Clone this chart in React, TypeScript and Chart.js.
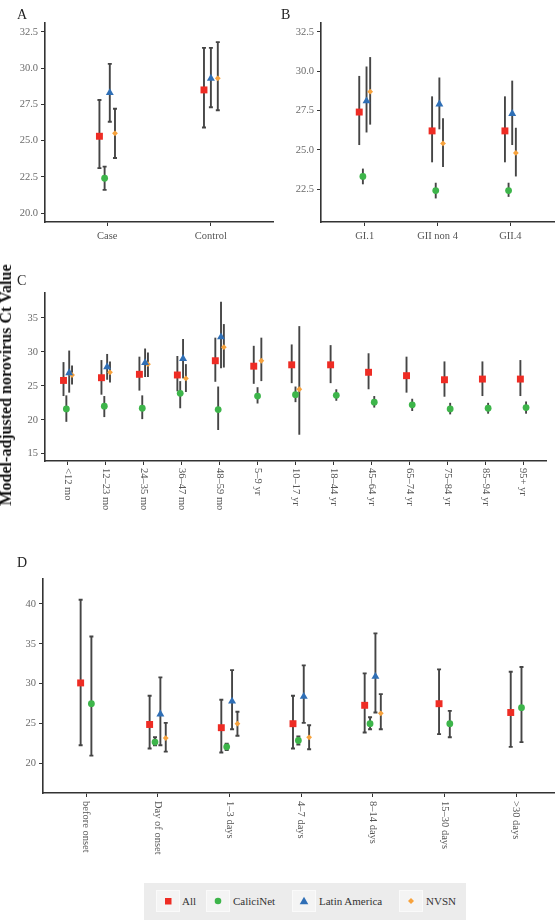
import React, { useEffect, useRef } from 'react';
import { Chart, registerables } from 'chart.js';

Chart.register(...registerables);

// [estimate, lower 95% bound, upper 95% bound]; null where a network has no estimate
type Est = [number, number, number] | null;

const FONT = '"Liberation Serif", "DejaVu Serif", serif';

const seriesNames = ['All', 'CaliciNet', 'Latin America', 'NVSN'];
const seriesColors = ['#ee2c24', '#3db54a', '#2f6fb6', '#f7a23c'];
const seriesShapes = ['rect', 'circle', 'triangle', 'rectRot'];
const seriesRadius = [4.9, 3.4, 4.6, 2.9];

// Panel A: case status
const statusCategories = ['Case', 'Control'];
const statusAll: Est[] = [[25.3, 23.1, 27.8], [28.5, 25.9, 31.4]];
const statusCalici: Est[] = [[22.4, 21.6, 23.2], null];
const statusLatAm: Est[] = [[28.3, 26.3, 30.3], [29.3, 27.3, 31.4]];
const statusNvsn: Est[] = [[25.5, 23.8, 27.2], [29.3, 27.1, 31.8]];
const statusTicks = [20, 22.5, 25, 27.5, 30, 32.5];

// Panel B: genotype
const genoCategories = ['GI.1', 'GII non 4', 'GII.4'];
const genoAll: Est[] = [[27.4, 25.3, 29.7], [26.2, 24.2, 28.4], [26.2, 24.2, 28.4]];
const genoCalici: Est[] = [[23.3, 22.8, 23.8], [22.4, 21.9, 22.9], [22.4, 22.0, 22.9]];
const genoLatAm: Est[] = [[28.1, 26.1, 30.3], [27.9, 26.3, 29.6], [27.3, 25.3, 29.4]];
const genoNvsn: Est[] = [[28.7, 26.6, 30.9], [25.4, 23.9, 27.0], [24.8, 23.3, 26.4]];
const genoTicks = [22.5, 25, 27.5, 30, 32.5];

// Panel C: age group
const ageCategories = [
  '<12 mo', '12–23 mo', '24–35 mo', '36–47 mo', '48–59 mo', '5–9 yr', '10–17 yr',
  '18–44 yr', '45–64 yr', '65–74 yr', '75–84 yr', '85–94 yr', '95+ yr',
];
const ageAll: Est[] = [
  [25.8, 23.5, 28.5], [26.2, 23.7, 28.8], [26.7, 24.3, 29.3], [26.6, 24.2, 29.4],
  [28.7, 25.6, 32.1], [27.9, 25.3, 30.9], [28.1, 25.4, 31.1], [28.1, 25.4, 31.0],
  [27.0, 24.5, 29.8], [26.5, 24.0, 29.3], [25.9, 23.4, 28.6], [26.0, 23.5, 28.6],
  [26.0, 23.5, 28.8],
];
const ageCalici: Est[] = [
  [21.6, 19.7, 23.6], [22.0, 20.4, 23.5], [21.7, 20.1, 23.6], [23.9, 21.7, 25.7],
  [21.5, 18.5, 24.9], [23.5, 22.4, 24.8], [23.7, 22.6, 24.9], [23.6, 22.8, 24.5],
  [22.6, 21.8, 23.5], [22.2, 21.3, 23.1], [21.6, 20.8, 22.5], [21.7, 20.9, 22.5],
  [21.8, 20.9, 22.7],
];
const ageLatAm: Est[] = [
  [26.9, 24.0, 30.2], [27.8, 25.9, 29.7], [28.4, 26.3, 30.5], [29.0, 26.1, 31.9],
  [32.2, 27.6, 37.4], null, null, null, null, null, null, null, null,
];
const ageNvsn: Est[] = [
  [26.6, 25.2, 28.0], [27.0, 25.5, 28.6], [28.2, 26.3, 29.9], [26.1, 24.1, 28.2],
  [30.7, 27.7, 34.1], [28.7, 25.7, 32.1], [24.5, 17.8, 33.8], null, null, null, null,
  null, null,
];
const ageTicks = [15, 20, 25, 30, 35];

// Panel D: days since symptom onset
const onsetCategories = [
  'before onset', 'Day of onset', '1–3 days', '4–7 days', '8–14 days', '15–30 days', '>30 days',
];
const onsetAll: Est[] = [
  [30.1, 22.3, 40.5], [24.9, 21.9, 28.5], [24.5, 21.4, 28.0], [25.0, 21.9, 28.5],
  [27.3, 23.9, 31.3], [27.5, 23.7, 31.8], [26.4, 22.1, 31.5],
];
const onsetCalici: Est[] = [
  [27.5, 21.0, 35.9], [22.7, 22.3, 23.3], [22.1, 21.7, 22.5], [22.9, 22.4, 23.4],
  [25.0, 24.3, 25.8], [25.0, 23.3, 26.6], [27.0, 22.7, 32.1],
];
const onsetLatAm: Est[] = [
  null, [26.2, 22.3, 30.8], [27.8, 24.3, 31.7], [28.4, 25.1, 32.3], [30.9, 26.4, 36.3], null, null,
];
const onsetNvsn: Est[] = [
  null, [23.2, 21.5, 25.1], [25.0, 23.5, 26.5], [23.3, 21.8, 24.8], [26.3, 24.3, 28.7], null, null,
];
const onsetTicks = [20, 25, 30, 35, 40];

interface PanelSpec {
  letter: string;
  categories: string[];
  series: Est[][];
  yMin: number;
  yMax: number;
  yTicks: number[];
  decimals: number;
  xMax?: number;
  dodge: number;
  caps: boolean;
  rotateLabels: boolean;
  box: { left: number; top: number; width: number; height: number };
  plot: { left: number; top: number; right: number; bottom: number };
  letterAt: { x: number; y: number };
  labelGap: number;
}

const panels: PanelSpec[] = [
  {
    letter: 'A', categories: statusCategories,
    series: [statusAll, statusCalici, statusLatAm, statusNvsn],
    yMin: 19.38, yMax: 33.12, yTicks: statusTicks, decimals: 1,
    dodge: 0.2, caps: true, rotateLabels: false,
    box: { left: 0, top: 0, width: 278, height: 250 },
    plot: { left: 45, top: 23, right: 277, bottom: 222 },
    letterAt: { x: 17, y: 18.5 }, labelGap: 17,
  },
  {
    letter: 'B', categories: genoCategories,
    series: [genoAll, genoCalici, genoLatAm, genoNvsn],
    yMin: 20.4, yMax: 33.07, yTicks: genoTicks, decimals: 1,
    dodge: 0.2, caps: false, rotateLabels: false,
    box: { left: 280, top: 0, width: 279, height: 250 },
    plot: { left: 41, top: 23, right: 277, bottom: 222 },
    letterAt: { x: 1, y: 18.5 }, labelGap: 17,
  },
  {
    letter: 'C', categories: ageCategories,
    series: [ageAll, ageCalici, ageLatAm, ageNvsn],
    yMin: 13.93, yMax: 38.68, yTicks: ageTicks, decimals: 0,
    dodge: 0.3, caps: false, rotateLabels: true,
    box: { left: 0, top: 250, width: 559, height: 290 },
    plot: { left: 45, top: 43, right: 546, bottom: 211 },
    letterAt: { x: 17, y: 35 }, labelGap: 7,
  },
  {
    letter: 'D', categories: onsetCategories,
    series: [onsetAll, onsetCalici, onsetLatAm, onsetNvsn],
    yMin: 16.33, yMax: 43.1, yTicks: onsetTicks, decimals: 0,
    xMax: 7.53, dodge: 0.3, caps: true, rotateLabels: true,
    box: { left: 0, top: 540, width: 559, height: 330 },
    plot: { left: 43, top: 39, right: 559, bottom: 253 },
    letterAt: { x: 17, y: 27 }, labelGap: 8,
  },
];

const AXIS_COLOR = '#333333';
const TICK_TEXT = '#6a6a6a';

function Panel({ spec }: { spec: PanelSpec }) {
  const ref = useRef<HTMLCanvasElement | null>(null);

  useEffect(() => {
    const canvas = ref.current;
    if (!canvas) return;
    const { categories, series, box, plot } = spec;

    // dodge the networks present in each category around the category centre
    const datasets = series.map((values, s) => ({
      label: seriesNames[s],
      data: values
        .map((v, i) => {
          if (!v) return null;
          const present = series.map((ser, k) => (ser[i] ? k : -1)).filter((k) => k >= 0);
          const n = present.length;
          const k = present.indexOf(s);
          const offset = (k - (n - 1) / 2) * (spec.dodge / n);
          return { x: i + 1 + offset, y: v[0], lo: v[1], hi: v[2] };
        })
        .filter((p) => p !== null),
      pointStyle: seriesShapes[s],
      pointRadius: seriesRadius[s],
      pointHoverRadius: seriesRadius[s],
      backgroundColor: seriesColors[s],
      borderColor: seriesColors[s],
      borderWidth: 0,
      showLine: false,
      clip: false as const,
    }));

    const errorBars = {
      id: 'errorBars',
      beforeDatasetsDraw(chart: any) {
        const { ctx } = chart;
        const xs = chart.scales.x;
        const ys = chart.scales.y;
        ctx.save();
        ctx.strokeStyle = '#454545';
        ctx.lineWidth = 1.9;
        chart.data.datasets.forEach((ds: any) => {
          ds.data.forEach((p: any) => {
            const px = xs.getPixelForValue(p.x);
            const top = ys.getPixelForValue(p.hi);
            const bot = ys.getPixelForValue(p.lo);
            ctx.beginPath();
            ctx.moveTo(px, top);
            ctx.lineTo(px, bot);
            if (spec.caps) {
              ctx.moveTo(px - 2, top);
              ctx.lineTo(px + 2, top);
              ctx.moveTo(px - 2, bot);
              ctx.lineTo(px + 2, bot);
            }
            ctx.stroke();
          });
        });
        ctx.restore();
      },
    };

    const labels = {
      id: 'categoryLabels',
      afterDraw(chart: any) {
        const { ctx } = chart;
        const xs = chart.scales.x;
        ctx.save();
        ctx.fillStyle = '#555555';
        ctx.font = `10.5px ${FONT}`;
        categories.forEach((c, i) => {
          const px = xs.getPixelForValue(i + 1);
          if (spec.rotateLabels) {
            ctx.save();
            ctx.translate(px, plot.bottom + spec.labelGap);
            ctx.rotate(Math.PI / 2);
            ctx.textAlign = 'left';
            ctx.textBaseline = 'middle';
            ctx.fillText(c, 0, 0);
            ctx.restore();
          } else {
            ctx.textAlign = 'center';
            ctx.textBaseline = 'alphabetic';
            ctx.fillText(c, px, plot.bottom + spec.labelGap);
          }
        });
        ctx.fillStyle = '#222222';
        ctx.font = `14px ${FONT}`;
        ctx.textAlign = 'left';
        ctx.textBaseline = 'alphabetic';
        ctx.fillText(spec.letter, spec.letterAt.x, spec.letterAt.y);
        ctx.restore();
      },
    };

    const gridOpts = {
      drawOnChartArea: false,
      drawTicks: true,
      tickLength: 4,
      color: AXIS_COLOR,
      lineWidth: 1,
    };
    const borderOpts = { display: true, color: AXIS_COLOR, width: 1.6 };

    const chart = new Chart(canvas, {
      type: 'scatter',
      data: { datasets: datasets as any },
      options: {
        animation: false,
        responsive: false,
        devicePixelRatio: 1,
        events: [],
        layout: { padding: { top: plot.top, right: box.width - plot.right, left: 0, bottom: 0 } },
        plugins: { legend: { display: false }, tooltip: { enabled: false } },
        scales: {
          x: {
            type: 'linear',
            bounds: 'data',
            min: 0.4,
            max: spec.xMax ?? categories.length + 0.6,
            afterBuildTicks: (s: any) => {
              s.ticks = categories.map((_, i) => ({ value: i + 1 }));
            },
            afterFit: (s: any) => {
              s.height = box.height - plot.bottom;
            },
            ticks: { display: false },
            grid: gridOpts,
            border: borderOpts,
          },
          y: {
            type: 'linear',
            bounds: 'data',
            min: spec.yMin,
            max: spec.yMax,
            afterBuildTicks: (s: any) => {
              s.ticks = spec.yTicks.map((v) => ({ value: v }));
            },
            afterFit: (s: any) => {
              s.width = plot.left;
            },
            ticks: {
              color: TICK_TEXT,
              font: { family: FONT, size: 10.5 },
              padding: 3,
              callback: (v: any) => Number(v).toFixed(spec.decimals),
            },
            grid: gridOpts,
            border: borderOpts,
          },
        },
      },
      plugins: [errorBars, labels],
    });

    return () => chart.destroy();
  }, [spec]);

  return (
    <canvas
      ref={ref}
      width={spec.box.width}
      height={spec.box.height}
      style={{
        position: 'absolute',
        left: spec.box.left,
        top: spec.box.top,
        width: spec.box.width,
        height: spec.box.height,
      }}
    />
  );
}

function LegendMarker({ index }: { index: number }) {
  const c = seriesColors[index];
  return (
    <svg width={12} height={12} viewBox="0 0 12 12" style={{ display: 'block' }}>
      {index === 0 && <rect x={3} y={3} width={6.5} height={6.5} fill={c} />}
      {index === 1 && <circle cx={6} cy={6} r={3.3} fill={c} />}
      {index === 2 && <polygon points="6,1.8 10.3,9.3 1.7,9.3" fill={c} />}
      {index === 3 && <polygon points="6,3 9,6 6,9 3,6" fill={c} />}
    </svg>
  );
}

const legendKeyLeft = [156, 206, 292, 399];
const legendTextLeft = [182, 233, 319, 426];

export default function App() {
  return (
    <div
      style={{
        position: 'absolute',
        left: 0,
        top: 0,
        width: 559,
        height: 922,
        overflow: 'hidden',
        background: '#ffffff',
        fontFamily: FONT,
      }}
    >
      {panels.map((p) => (
        <Panel key={p.letter} spec={p} />
      ))}
      <div
        style={{
          position: 'absolute',
          left: 6,
          top: 385,
          transform: 'translate(-50%, -50%) rotate(-90deg)',
          whiteSpace: 'nowrap',
          fontWeight: 'bold',
          fontSize: 16,
          lineHeight: '18px',
          color: '#111111',
        }}
      >
        Model-adjusted norovirus Ct Value
      </div>
      <div
        style={{
          position: 'absolute',
          left: 144,
          top: 883,
          width: 322,
          height: 37,
          background: '#ececec',
        }}
      />
      {seriesNames.map((name, i) => (
        <React.Fragment key={name}>
          <div
            style={{
              position: 'absolute',
              left: legendKeyLeft[i],
              top: 890,
              width: 24,
              height: 22,
              background: '#f4f4f4',
              boxSizing: 'border-box',
              border: '1px solid #fafafa',
              display: 'flex',
              alignItems: 'center',
              justifyContent: 'center',
            }}
          >
            <LegendMarker index={i} />
          </div>
          <div
            style={{
              position: 'absolute',
              left: legendTextLeft[i],
              top: 893,
              fontSize: 11,
              lineHeight: '16px',
              color: '#333333',
              whiteSpace: 'nowrap',
            }}
          >
            {name}
          </div>
        </React.Fragment>
      ))}
    </div>
  );
}
